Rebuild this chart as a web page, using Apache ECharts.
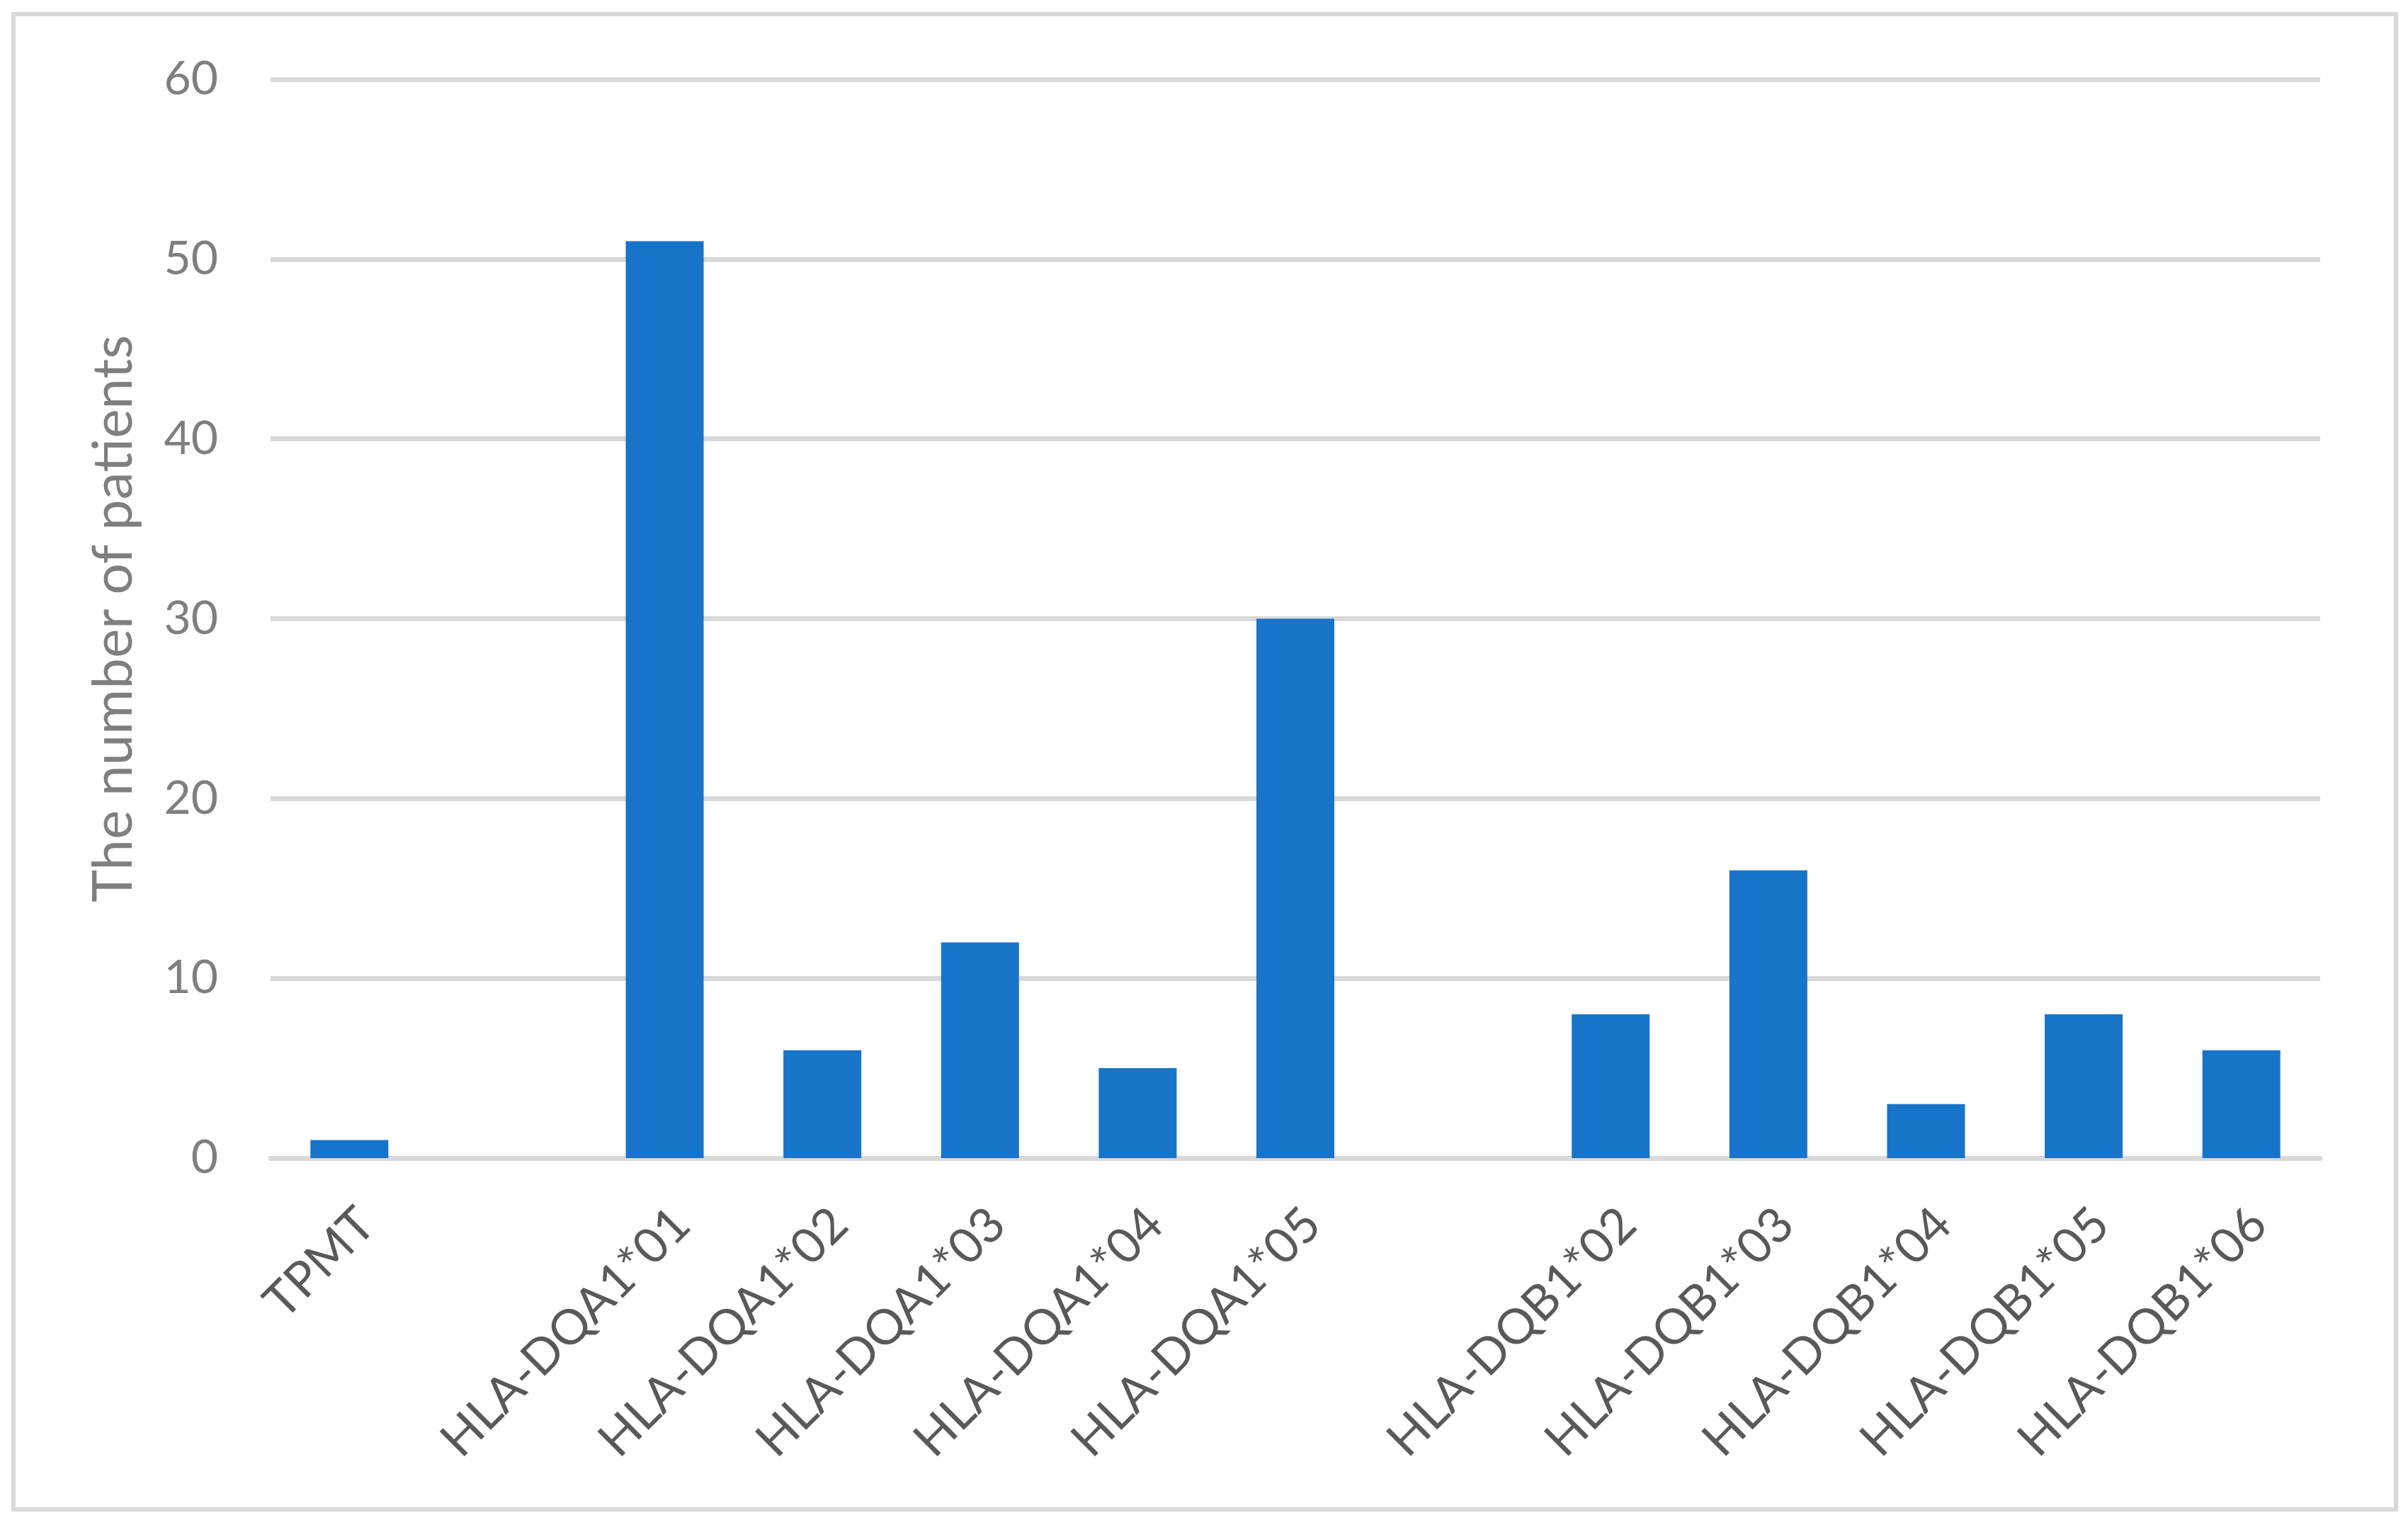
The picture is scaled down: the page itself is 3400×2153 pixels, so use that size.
<!DOCTYPE html>
<html>
<head>
<meta charset="utf-8">
<script src="https://cdn.jsdelivr.net/npm/echarts@6/dist/echarts.min.js"></script>
<style>
html,body{margin:0;padding:0;background:#fff;}
#chart{width:3400px;height:2153px;}
</style>
</head>
<body>
<div id="chart"></div>
<script>
const categories = ['TPMT', '', 'HLA-DQA1*01', 'HLA-DQA1*02', 'HLA-DQA1*03', 'HLA-DQA1*04', 'HLA-DQA1*05', '', 'HLA-DQB1*02', 'HLA-DQB1*03', 'HLA-DQB1*04', 'HLA-DQB1*05', 'HLA-DQB1*06'];
const patients = [1, null, 51, 6, 12, 5, 30, null, 8, 16, 3, 8, 6];
const yTicks = [0, 10, 20, 30, 40, 50, 60];
const yTitle = 'The number of patients';

const chart = echarts.init(document.getElementById('chart'), null, {renderer: 'canvas'});
const FONT = 'Lato';
chart.setOption({
  animation: false,
  backgroundColor: '#ffffff',
  graphic: [{
    type: 'rect',
    shape: {x: 19, y: 20, width: 3364, height: 2111},
    style: {fill: 'none', stroke: '#d9d9d9', lineWidth: 6},
    silent: true, z: -1
  }],
  grid: {left: 382, right: 124, top: 112, bottom: 518, containLabel: false},
  xAxis: {
    type: 'category',
    data: categories,
    axisLine: {show: true, lineStyle: {color: '#d9d9d9', width: 7}},
    axisTick: {show: false},
    axisLabel: {
      interval: 0, rotate: 45, margin: 58, verticalAlign: 'top',
      color: '#595959', fontFamily: FONT, fontSize: 69
    }
  },
  yAxis: {
    type: 'value',
    min: yTicks[0], max: yTicks[yTicks.length - 1], interval: 10,
    name: yTitle,
    nameLocation: 'middle',
    nameGap: 182,
    nameRotate: 90,
    nameTextStyle: {color: '#7f7f7f', fontFamily: FONT, fontSize: 78},
    axisLine: {show: false},
    axisTick: {show: false},
    splitLine: {show: true, lineStyle: {color: '#d9d9d9', width: 7}},
    axisLabel: {color: '#7f7f7f', fontFamily: FONT, fontSize: 66, margin: 74}
  },
  series: [{
    type: 'bar',
    data: patients,
    barWidth: 110,
    itemStyle: {color: '#1874c9'}
  }]
});
</script>
</body>
</html>
